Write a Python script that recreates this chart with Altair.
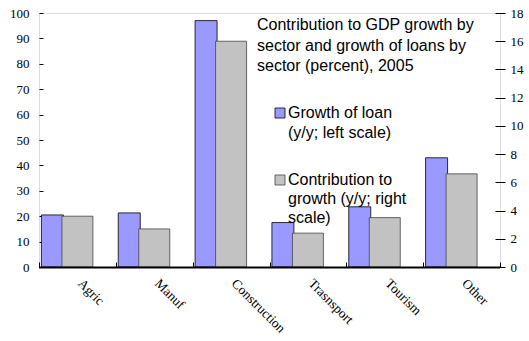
import altair as alt
import pandas as pd

sectors = ["Agric", "Manuf", "Construction", "Trasnsport", "Tourism", "Other"]
loan_growth = [20.5, 21.3, 97.0, 17.5, 23.7, 43.0]
contribution = [3.6, 2.7, 16.0, 2.4, 3.5, 6.6]

title_lines = ["Contribution to GDP growth by", "sector and growth of loans by", "sector (percent), 2005"]
legend1_lines = ["Growth of loan", "(y/y; left scale)"]
legend2_lines = ["Contribution to", "growth (y/y; right", "scale)"]

df = pd.DataFrame({"sector": sectors, "loan": loan_growth, "contrib": contribution})
one = pd.DataFrame({"k": [0]})

SERIF = "Liberation Serif"
SANS = "Liberation Sans"
BLUE = "#9999FF"
GRAY = "#c2c2c2"

x_enc = alt.X(
    "sector:N", sort=sectors,
    scale=alt.Scale(paddingInner=0, paddingOuter=0),
    axis=alt.Axis(title=None, orient="bottom", offset=-5, domain=False, tickSize=5,
                  tickColor="black", tickBand="extent", labelAngle=45, labelAlign="left",
                  labelBaseline="top", labelPadding=9, labelOffset=7, labelFont=SERIF,
                  labelFontSize=13.5, labelColor="black", labelOverlap=False),
)

blue = alt.Chart(df).mark_bar(width=22, xOffset=-25, color=BLUE, stroke="black", strokeWidth=0.8).encode(
    x=x_enc,
    y=alt.Y("loan:Q", scale=alt.Scale(domain=[0, 100], nice=False),
            axis=alt.Axis(title=None, orient="left", offset=-4, domain=False, tickSize=4,
                          tickColor="black", grid=False, values=list(range(0, 101, 10)),
                          labelOverlap=False, labelPadding=10, labelFont=SERIF,
                          labelFontSize=13, labelColor="black")),
)

gray = alt.Chart(df).mark_bar(width=31, xOffset=0, color=GRAY, stroke="#444444", strokeWidth=0.8).encode(
    x=x_enc,
    y=alt.Y("contrib:Q", scale=alt.Scale(domain=[0, 18], nice=False),
            axis=alt.Axis(title=None, orient="right", offset=-5, domain=False, tickSize=10,
                          tickColor="black", grid=False, values=list(range(0, 19, 2)),
                          labelOverlap=False, labelPadding=5, labelFont=SERIF,
                          labelFontSize=13, labelColor="black")),
)

annot = []
annot.append(alt.Chart(one).mark_rule(color="black", strokeWidth=2).encode(
    x=alt.value(0), x2=alt.value(461), y=alt.value(254.5)))
for i, line in enumerate(title_lines):
    annot.append(alt.Chart(one).mark_text(align="left", baseline="middle", font=SANS, fontSize=16,
                                          fontWeight="normal", color="black").encode(
        x=alt.value(218), y=alt.value(12 + 20.5 * i), text=alt.value(line)))
for i, line in enumerate(legend1_lines):
    annot.append(alt.Chart(one).mark_text(align="left", baseline="middle", font=SANS, fontSize=16,
                                          fontWeight="normal", color="black").encode(
        x=alt.value(249), y=alt.value(100 + 20 * i), text=alt.value(line)))
for i, line in enumerate(legend2_lines):
    annot.append(alt.Chart(one).mark_text(align="left", baseline="middle", font=SANS, fontSize=16,
                                          fontWeight="normal", color="black").encode(
        x=alt.value(249), y=alt.value(167 + 19 * i), text=alt.value(line)))
annot.append(alt.Chart(one).mark_rect(color=BLUE, stroke="black", strokeWidth=0.8).encode(
    x=alt.value(236), x2=alt.value(246), y=alt.value(95), y2=alt.value(105)))
annot.append(alt.Chart(one).mark_rect(color=GRAY, stroke="#444444", strokeWidth=0.8).encode(
    x=alt.value(236), x2=alt.value(246), y=alt.value(162), y2=alt.value(172)))

chart = alt.layer(blue, gray, *annot).resolve_scale(y="independent").properties(
    width=461, height=254,
    padding={"left": 39, "top": 13, "right": 29, "bottom": 74},
    autosize="none",
).configure_view(stroke="black", strokeWidth=1).configure(background="white")

chart.save("out.html", embed_options={"renderer": "svg", "actions": False})
